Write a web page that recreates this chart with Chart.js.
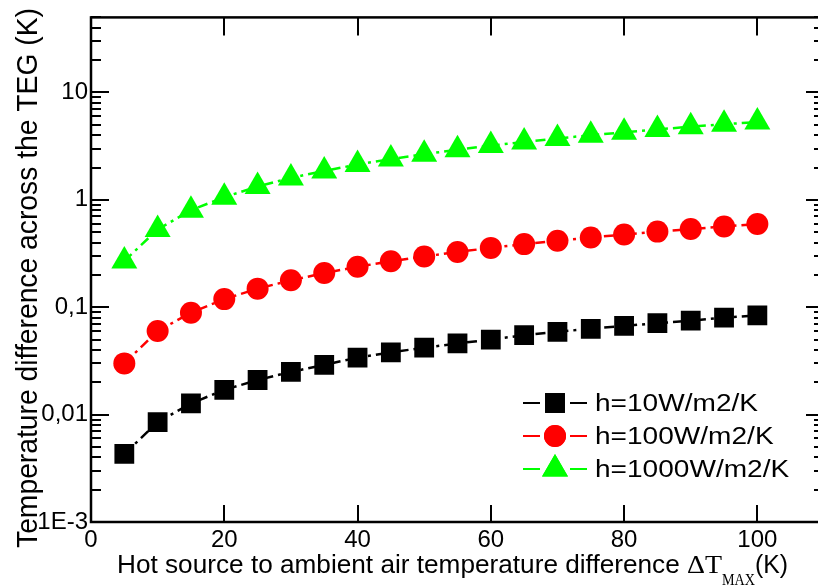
<!DOCTYPE html>
<html><head><meta charset="utf-8">
<script src="https://cdn.jsdelivr.net/npm/chart.js@4/dist/chart.umd.min.js"></script>
<style>
html,body{margin:0;padding:0;background:#fff;overflow:hidden;width:818px;height:585px}
#wrap{position:relative;width:818px;height:585px;overflow:hidden}
#inner{position:absolute;left:0;top:0;width:830px;height:585px}
#c{display:block;width:830px;height:585px}
</style>
</head><body><div id="wrap"><div id="inner"><canvas id="c" width="830" height="585" style="width:830px;height:585px"></canvas></div></div>
<script>
// ---- data ----
const xValues = [5,10,15,20,25,30,35,40,45,50,55,60,65,70,75,80,85,90,95,100];
const seriesNames = ['h=10W/m2/K','h=100W/m2/K','h=1000W/m2/K'];
const h10 = [0.0043,0.0085,0.0127,0.017,0.021,0.025,0.029,0.034,0.038,0.042,0.046,0.050,0.055,0.059,0.063,0.067,0.071,0.075,0.080,0.084];
const h100 = [0.030,0.060,0.089,0.119,0.149,0.178,0.208,0.238,0.268,0.297,0.327,0.357,0.387,0.416,0.446,0.476,0.506,0.535,0.565,0.595];
const h1000 = [0.27,0.53,0.80,1.06,1.33,1.60,1.86,2.13,2.40,2.66,2.93,3.20,3.46,3.73,4.00,4.26,4.53,4.80,5.06,5.30];
const xTickValues = [0,20,40,60,80,100];
const yTickValues = [0.001,0.01,0.1,1,10];
const yTickLabels = ['1E-3','0,01','0,1','1','10'];
const xTitleMain = 'Hot source to ambient air temperature difference ';
const xTitleSym = '\u0394T';
const xTitleSub = 'MAX';
const xTitleUnit = '(K)';
const yTitle = 'Temperature difference across the TEG (K)';

const SANS = "'Liberation Sans', Arial, sans-serif";
const SERIF = "'Liberation Serif', 'Times New Roman', serif";

function pts(arr){ return xValues.map((x,i)=>({x:x, y:arr[i]})); }

const colors = ['#000000','#ff0000','#00ff00'];
const styles = ['rect','circle','triangle'];
const radii = [14,11,15];
const seriesData = [h10,h100,h1000];

function fitText(ctx, text, x, y, font, targetW, sy){
  ctx.font = font;
  const w = ctx.measureText(text).width;
  ctx.save();
  ctx.translate(x,y);
  ctx.scale(targetW ? targetW/w : 1, sy||1);
  ctx.fillText(text,0,0);
  ctx.restore();
}

const framePlugin = {
  id:'frame',
  beforeDatasetsDraw(chart){
    const ctx = chart.ctx, a = chart.chartArea;
    const xs = chart.scales.x, ys = chart.scales.y;
    ctx.save();
    ctx.strokeStyle = '#000';
    ctx.lineWidth = 2;
    ctx.beginPath();
    xTickValues.forEach(v=>{
      const px = Math.round(xs.getPixelForValue(v));
      ctx.moveTo(px, a.bottom); ctx.lineTo(px, a.bottom-17);
      ctx.moveTo(px, a.top); ctx.lineTo(px, a.top+18);
    });
    for(let d=0.001; d<=10.0001; d*=10){
      for(let m=1;m<=9;m++){
        const v = d*m;
        if(v>50.0001) break;
        const py = Math.round(ys.getPixelForValue(v));
        const len = m===1 ? 18 : 10;
        ctx.moveTo(a.left, py); ctx.lineTo(a.left+len, py);
        ctx.moveTo(a.right, py); ctx.lineTo(a.right-len, py);
      }
    }
    ctx.stroke();
    ctx.lineWidth = 2.5;
    ctx.strokeRect(a.left, a.top, a.right-a.left, a.bottom-a.top);
    ctx.restore();
  },
  afterDraw(chart){
    const ctx = chart.ctx;
    ctx.save();
    ctx.fillStyle = '#000';
    ctx.textBaseline = 'alphabetic';
    ctx.textAlign = 'left';
    // x title
    fitText(ctx, xTitleMain, 117, 573, '25px '+SANS, 570, 1);
    fitText(ctx, xTitleSym, 687, 573, '25px '+SERIF, 35, 1);
    fitText(ctx, xTitleSub, 722, 585, '17px '+SERIF, 33, 1);
    fitText(ctx, xTitleUnit, 755, 573, '25px '+SANS, 33, 1);
    // y title
    ctx.font = '27px '+SANS;
    const yw = ctx.measureText(yTitle).width;
    ctx.save();
    ctx.translate(37, 548);
    ctx.rotate(-Math.PI/2);
    ctx.scale(540/yw, 1.1);
    ctx.fillText(yTitle, 0, 0);
    ctx.restore();
    // legend
    const rowsY = [403,436,469];
    const baseY = [411,444,477];
    ctx.font = '23px '+SANS;
    const lsx = 163/ctx.measureText(seriesNames[0]).width;
    chart.data.datasets.forEach((ds,i)=>{
      const y = rowsY[i];
      ctx.strokeStyle = ds.borderColor;
      ctx.lineWidth = 2;
      ctx.setLineDash([]);
      ctx.beginPath();
      ctx.moveTo(523,y); ctx.lineTo(540,y);
      ctx.moveTo(570,y); ctx.lineTo(587,y);
      ctx.stroke();
      ctx.fillStyle = ds.pointBackgroundColor;
      Chart.helpers.drawPoint(ctx, {pointStyle: ds.pointStyle, radius: ds.pointRadius, rotation:0, borderWidth:0}, 555, y);
      ctx.fill();
      ctx.fillStyle = '#000';
      ctx.save();
      ctx.translate(595, baseY[i]);
      ctx.scale(lsx,1);
      ctx.font = '23px '+SANS;
      ctx.fillText(ds.label,0,0);
      ctx.restore();
    });
    ctx.restore();
  }
};

const datasets = seriesData.map((arr,i)=>({
  label: seriesNames[i],
  data: pts(arr),
  borderColor: colors[i],
  backgroundColor: colors[i],
  pointBackgroundColor: colors[i],
  pointBorderColor: colors[i],
  pointBorderWidth: 0,
  pointStyle: styles[i],
  pointRadius: radii[i],
  borderWidth: 2.5,
  borderDash: [10,5,3,5],
  showLine: true,
  tension: 0
}));

new Chart(document.getElementById('c'), {
  type: 'line',
  data: { datasets },
  options: {
    responsive: false,
    maintainAspectRatio: false,
    animation: false,
    devicePixelRatio: 1,
    layout: { autoPadding: false, padding: { left: 0, top: 15, right: 6, bottom: 0 } },
    plugins: { legend: { display: false }, tooltip: { enabled: false } },
    scales: {
      x: {
        type: 'linear', min: 0, max: 110,
        grid: { display: false, drawTicks: false },
        border: { display: false },
        afterBuildTicks: s => { s.ticks = xTickValues.map(v=>({value:v})); },
        afterFit: s => { s.height = 63; },
        ticks: { color:'#000', padding: 4, maxRotation:0, autoSkip:false,
          font: { family: SANS, size: 24 }, callback: v => String(v) }
      },
      y: {
        type: 'logarithmic', min: 0.001, max: 50,
        grid: { display: false, drawTicks: false },
        border: { display: false },
        afterBuildTicks: s => { s.ticks = yTickValues.map(v=>({value:v})); },
        afterFit: s => { s.width = 91; },
        ticks: { color:'#000', padding: 3, autoSkip:false,
          font: { family: SANS, size: 24 },
          callback: (v) => { const k = yTickValues.findIndex(t=>Math.abs(t-v)/t<1e-6); return k>=0 ? yTickLabels[k] : ''; } }
      }
    }
  },
  plugins: [framePlugin]
});
</script>
</body></html>
